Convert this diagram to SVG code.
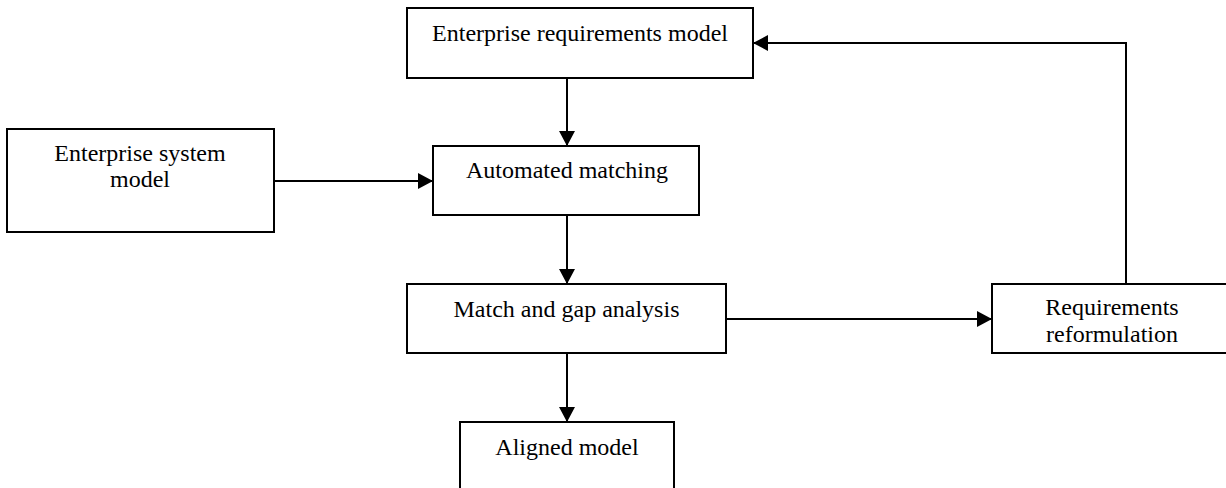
<svg xmlns="http://www.w3.org/2000/svg" width="1226" height="488" viewBox="0 0 1226 488">
  <style>
    .box { fill: #ffffff; stroke: #000000; stroke-width: 2; }
    .lbl { font-family: "Liberation Serif", "Times New Roman", serif; font-size: 24px; fill: #000000; text-anchor: middle; }
    .conn { fill: none; stroke: #000000; stroke-width: 2; }
  </style>
  <defs>
    <marker id="arrow" markerUnits="userSpaceOnUse" markerWidth="15" markerHeight="16" refX="15" refY="8" orient="auto">
      <path d="M0,0 L15,8 L0,16 z" fill="#000000"/>
    </marker>
  </defs>
  <rect width="1226" height="488" fill="#ffffff"/>

  <g id="connectors">
    <path class="conn" d="M567,78 L567,146" marker-end="url(#arrow)"/>
    <path class="conn" d="M274,181 L433,181" marker-end="url(#arrow)"/>
    <path class="conn" d="M567,215 L567,284" marker-end="url(#arrow)"/>
    <path class="conn" d="M726,319 L992,319" marker-end="url(#arrow)"/>
    <path class="conn" d="M567,353 L567,422" marker-end="url(#arrow)"/>
    <path class="conn" d="M1126,284 L1126,43 L753,43" marker-end="url(#arrow)"/>
  </g>

  <g id="enterprise-requirements-model">
    <rect class="box" x="407" y="8" width="346" height="70"/>
    <text class="lbl" x="580" y="41">Enterprise requirements model</text>
  </g>

  <g id="enterprise-system-model">
    <rect class="box" x="7" y="129" width="267" height="103"/>
    <text class="lbl" x="140" y="161">Enterprise system</text>
    <text class="lbl" x="140" y="187">model</text>
  </g>

  <g id="automated-matching">
    <rect class="box" x="433" y="146" width="266" height="69"/>
    <text class="lbl" x="567" y="178">Automated matching</text>
  </g>

  <g id="match-and-gap-analysis">
    <rect class="box" x="407" y="284" width="319" height="69"/>
    <text class="lbl" x="566.5" y="317">Match and gap analysis</text>
  </g>

  <g id="requirements-reformulation">
    <rect class="box" x="992" y="284" width="240" height="69"/>
    <text class="lbl" x="1112" y="315">Requirements</text>
    <text class="lbl" x="1112" y="342">reformulation</text>
  </g>

  <g id="aligned-model">
    <rect class="box" x="460" y="422" width="214" height="80"/>
    <text class="lbl" x="567" y="455">Aligned model</text>
  </g>
</svg>
